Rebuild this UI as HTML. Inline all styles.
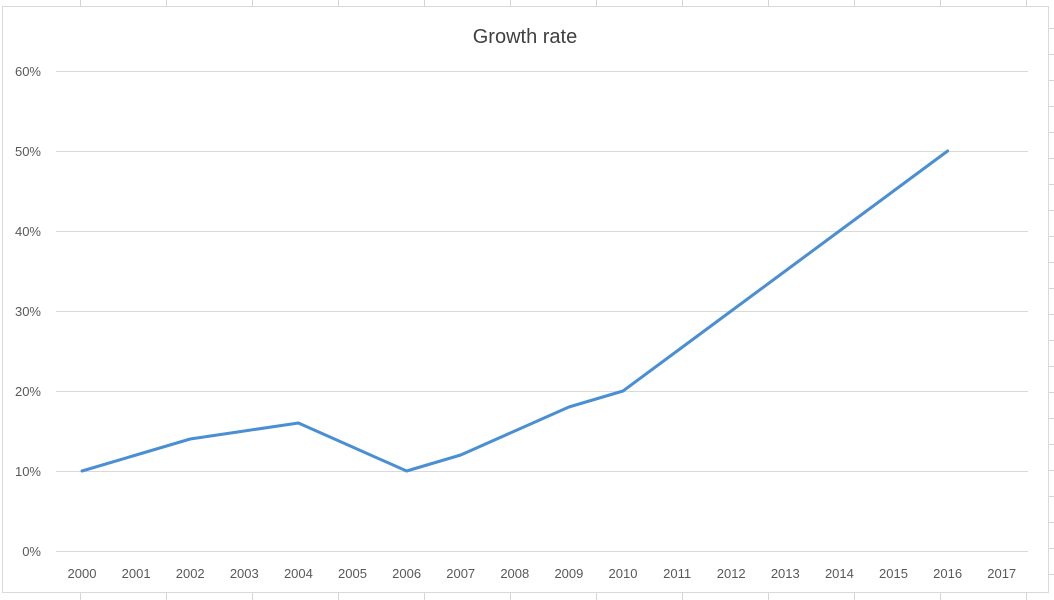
<!DOCTYPE html>
<html><head><meta charset="utf-8"><style>
html,body{margin:0;padding:0;background:#fff;width:1054px;height:600px;overflow:hidden}
svg{display:block;font-family:"Liberation Sans",sans-serif}
</style></head><body>
<svg id="chart" width="1054" height="600">
<g id="cells" stroke="#d4d4d4" stroke-width="1"></g>
<rect x="2.5" y="6.5" width="1046" height="586" fill="#fff" stroke="#d9d9d9"/>
<text x="525" y="43" text-anchor="middle" font-size="20" fill="#404040">Growth rate</text>
<g id="grid"></g><g id="xlabels"></g><g id="ylabels"></g><g id="series"></g>
</svg>
<script>
const years=["2000","2001","2002","2003","2004","2005","2006","2007","2008","2009","2010","2011","2012","2013","2014","2015","2016","2017"];
const growth=[10,12,14,15,16,13,10,12,15,18,20,25,30,35,40,45,50,null];
const yTicks=[0,10,20,30,40,50,60];
const NS="http://www.w3.org/2000/svg";
const x0=82,dx=54.1,yBase=551,yPer=8;
const X=i=>x0+i*dx, Y=v=>yBase-v*yPer;
function el(t,a,p){const e=document.createElementNS(NS,t);for(const k in a)e.setAttribute(k,a[k]);p.appendChild(e);return e;}
const cells=document.getElementById('cells');
[80,166,252,338,424,510,596,682,768,854,940,1026].forEach(cx=>{
  const l=el('line',{x1:cx+0.5,y1:0,x2:cx+0.5,y2:6},cells);
  
  
  const b=el('line',{x1:cx+0.5,y1:593,x2:cx+0.5,y2:600},cells);
  
  
});
[28,54,80,106,132,158,184,210,236,262,288,314,340,366,392,418,444,470,496,522,548,574].forEach(cy=>{
  const l=el('line',{x1:1049,y1:cy+0.5,x2:1054,y2:cy+0.5},cells);
  
  
});
const grid=document.getElementById('grid'),yl=document.getElementById('ylabels'),xl=document.getElementById('xlabels');
yTicks.forEach(v=>{
  const g=el('line',{x1:56,x2:1028,y1:Y(v)+0.5,y2:Y(v)+0.5,stroke:'#d9d9d9','stroke-width':1},grid);
  
  
  const t=el('text',{x:41,y:Y(v)+5,'text-anchor':'end','font-size':13,fill:'#595959'},yl);
  t.textContent=v+'%';
  
  
});
years.forEach((yr,i)=>{
  const t=el('text',{x:X(i),y:578,'text-anchor':'middle','font-size':13,fill:'#595959'},xl);
  t.textContent=yr;
  
  
});
let d='';growth.forEach((v,i)=>{if(v==null)return;d+=(d?'L':'M')+X(i)+' '+Y(v);});
const p=el('path',{d:d,fill:'none',stroke:'#4a8fd4','stroke-width':3,'stroke-linejoin':'round','stroke-linecap':'round'},document.getElementById('series'));


</script>
</body></html>
